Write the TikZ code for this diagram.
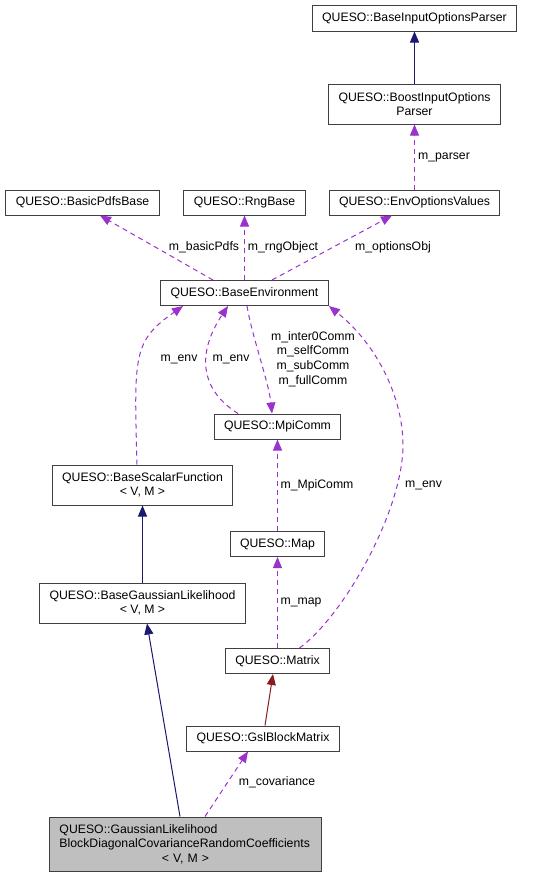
\documentclass[tikz,border=0pt]{standalone}
\usepackage{fontspec}
\setmainfont{Liberation Sans}
\usetikzlibrary{arrows.meta}

\definecolor{inhblue}{HTML}{191970}
\definecolor{usepurple}{HTML}{9A32CD}
\definecolor{privred}{HTML}{8B1A1A}
\definecolor{curgray}{HTML}{BFBFBF}

\begin{document}
\begin{tikzpicture}[x=1bp,y=-1bp,>={Triangle[length=11bp,width=9bp]},
font=\fontsize{12.3}{14.7}\selectfont]
\tikzstyle{cls}=[draw=black!75,line width=1bp,fill=white,inner xsep=10bp,inner ysep=2bp,minimum height=25bp,align=center]
\tikzstyle{cls2}=[cls,minimum height=40bp]
\tikzstyle{lbl}=[inner sep=0pt,align=center]
\tikzstyle{pubinh}=[->,draw=inhblue,line width=1bp]
\tikzstyle{privinh}=[->,draw=privred,line width=1bp]
\tikzstyle{usedby}=[->,draw=usepurple,line width=1bp,dash pattern=on 5bp off 4bp]

\useasboundingbox (0,0) rectangle (541,877);

% classes
\node[cls]  (bip)    at (414.5,18.5)  {QUESO::BaseInputOptionsParser};
\node[cls2] (boost)  at (414.5,104) {QUESO::BoostInputOptions\\Parser};
\node[cls]  (basic)  at (82.5,202.5) {QUESO::BasicPdfsBase};
\node[cls]  (rng)    at (244.5,202.5) {QUESO::RngBase};
\node[cls]  (envopt) at (414.5,202.5) {QUESO::EnvOptionsValues};
\node[cls]  (env)    at (244.5,293) {QUESO::BaseEnvironment};
\node[cls]  (mpi)    at (277.5,426.5) {QUESO::MpiComm};
\node[cls2] (scalar) at (142.5,485) {QUESO::BaseScalarFunction\\< V, M >};
\node[cls]  (map)    at (277.5,544) {QUESO::Map};
\node[cls2] (bgl)    at (142.5,603) {QUESO::BaseGaussianLikelihood\\< V, M >};
\node[cls]  (matrix) at (277.5,661) {QUESO::Matrix};
\node[cls]  (gsl)    at (263,738.5) {QUESO::GslBlockMatrix};
\node[cls,fill=curgray,minimum height=54bp,text width=252bp,align=left] (gauss) at (185.5,844)
  {QUESO::GaussianLikelihood\\BlockDiagonalCovarianceRandomCoefficients\\\makebox[252bp]{< V, M >}};

\coordinate (bend) at (403,445);

% member labels
\node[lbl] (l_parser) at (444,157) {m\_parser};
\node[lbl] (l_basic)  at (204,247) {m\_basicPdfs};
\node[lbl] (l_rng)    at (283,247) {m\_rngObject};
\node[lbl] (l_opts)   at (393,247) {m\_optionsObj};
\node[lbl] (l_envA)   at (179,359) {m\_env};
\node[lbl] (l_envB)   at (231,359) {m\_env};
\node[lbl] (l_comm)   at (313,359) {m\_inter0Comm\\m\_selfComm\\m\_subComm\\m\_fullComm};
\node[lbl] (l_mpi)    at (317,485) {m\_MpiComm};
\node[lbl] (l_envC)   at (423.5,485) {m\_env};
\node[lbl] (l_map)    at (301,602) {m\_map};
\node[lbl] (l_cov)    at (277,782) {m\_covariance};

% inheritance
\path (boost) edge[pubinh] (bip)
(bgl) edge[pubinh] (scalar)
([xshift=-5.5bp]gauss.north) edge[pubinh] ([xshift=4.5bp]bgl.south)
([xshift=2bp]gsl.north) edge[privinh] ([xshift=-4.5bp]matrix.south);

% usage
\path (envopt) edge[usedby] (boost)
([xshift=-31.5bp]env.north) edge[usedby] ([xshift=17.5bp]basic.south)
(env) edge[usedby] (rng)
([xshift=27.5bp]env.north) edge[usedby] ([xshift=-22.5bp]envopt.south)
(map) edge[usedby] (mpi)
(matrix) edge[usedby] (map)
([xshift=19.5bp]gauss.north) edge[usedby] ([xshift=-15bp]gsl.south);

\draw[usedby] ([xshift=-5.5bp]scalar.north) .. controls +(-3,-110) and +(-50,35) .. ([xshift=-61.5bp]env.south);
\draw[usedby] ([xshift=-39.5bp]mpi.north) .. controls +(-40,-25) and +(-30,45) .. ([xshift=-16.5bp]env.south);
\draw[usedby] ([xshift=2.5bp]env.south) .. controls +(5,30) and +(-3,-30) .. ([xshift=-5.5bp]mpi.north);
\draw[usedby] ([xshift=22bp]matrix.north) .. controls +(45,-33) and +(0,65) .. (bend)
  .. controls +(0,-45) and +(50,40) .. (env.south east);
\end{tikzpicture}
\end{document}
